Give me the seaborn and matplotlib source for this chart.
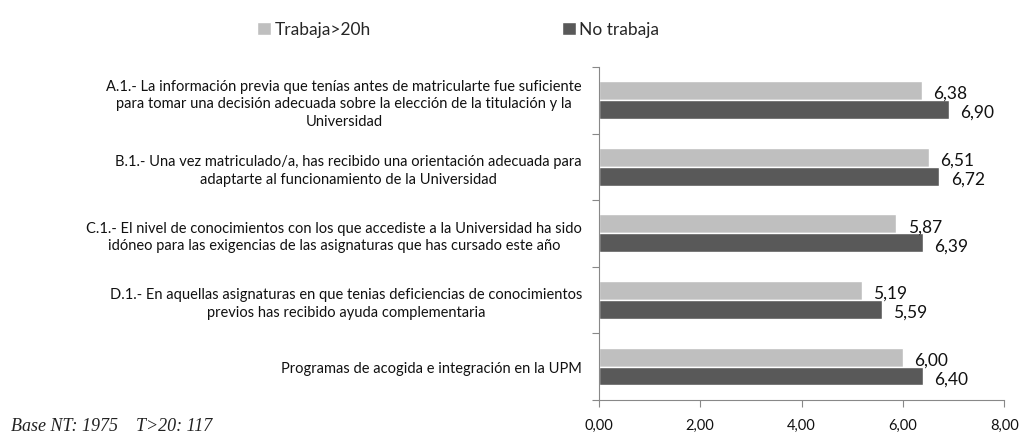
import matplotlib
matplotlib.use('Agg')
import matplotlib.pyplot as plt
from matplotlib.ticker import FixedLocator, FuncFormatter
import seaborn as sns
import pandas as pd

# Data
categories = [
    'A.1.- La información previa que tenías antes de matricularte fue suficiente\n'
    'para tomar una decisión adecuada sobre la elección de la titulación y la\nUniversidad',
    'B.1.- Una vez matriculado/a, has recibido una orientación adecuada para\n'
    'adaptarte al funcionamiento de la Universidad',
    'C.1.- El nivel de conocimientos con los que accediste a la Universidad ha sido\n'
    'idóneo para las exigencias de las asignaturas que has cursado este año',
    'D.1.- En aquellas asignaturas en que tenias deficiencias de conocimientos\n'
    'previos has recibido ayuda complementaria',
    'Programas de acogida e integración en la UPM',
]
series = ['Trabaja>20h', 'No trabaja']
trabaja = [6.38, 6.51, 5.87, 5.19, 6.00]
no_trabaja = [6.90, 6.72, 6.39, 5.59, 6.40]
xticks = [0, 2, 4, 6, 8]
colors = ['#BFBFBF', '#595959']

df = pd.DataFrame({
    'pregunta': categories * 2,
    'grupo': [series[0]] * len(categories) + [series[1]] * len(categories),
    'valor': trabaja + no_trabaja,
})

sns.set_style('white')
plt.rcParams['font.family'] = ['Lato', 'DejaVu Sans']

fig = plt.figure(figsize=(10.27, 4.39), dpi=100)
ax = fig.add_axes([0.583, 0.087, 0.395, 0.758])

sns.barplot(data=df, y='pregunta', x='valor', hue='grupo', order=categories,
            hue_order=series, palette=colors, orient='h', width=0.57,
            saturation=1, ax=ax, legend=True)

for cont in ax.containers:
    for bar in cont:
        w = bar.get_width()
        y = bar.get_y() + bar.get_height() * 0.62
        ax.text(w + 0.22, y, f'{w:.2f}'.replace('.', ','), va='center',
                ha='left', fontsize=12.5, color='#111111')

ax.set_xlim(0, 8)
ax.set_ylim(len(categories) - 0.5, -0.5)
ax.set_xticks(xticks)
ax.xaxis.set_major_formatter(FuncFormatter(lambda v, p: f'{v:.2f}'.replace('.', ',')))
ax.tick_params(axis='x', length=5, width=0.8, color='#888888', direction='out',
               labelsize=10.5, pad=8, bottom=True, labelcolor='#111111')

ax.yaxis.set_minor_locator(FixedLocator([i - 0.5 for i in range(len(categories) + 1)]))
ax.tick_params(axis='y', which='major', length=0, pad=12, labelsize=10.5,
               labelcolor='#111111')
ax.tick_params(axis='y', which='minor', length=5, width=0.8, color='#888888',
               direction='out', left=True)
for lab in ax.get_yticklabels():
    lab.set_multialignment('center')
    lab.set_linespacing(1.3)

ax.set_xlabel('')
ax.set_ylabel('')
for s in ['top', 'right']:
    ax.spines[s].set_visible(False)
for s in ['left', 'bottom']:
    ax.spines[s].set_color('#888888')
    ax.spines[s].set_linewidth(0.8)

handles, labels = ax.get_legend_handles_labels()
ax.get_legend().remove()
fig.legend(handles, labels, loc='upper center', bbox_to_anchor=(0.446, 0.985),
           ncol=2, frameon=False, handlelength=0.8, handleheight=0.8,
           handletextpad=0.2, columnspacing=11, prop={'size': 12.5})

fig.text(0.011, 0.028, 'Base NT: 1975    T>20: 117', fontsize=13, style='italic',
         va='center', family=['Liberation Serif', 'DejaVu Serif'], color='#222222')

fig.savefig('out.png', dpi=100)
